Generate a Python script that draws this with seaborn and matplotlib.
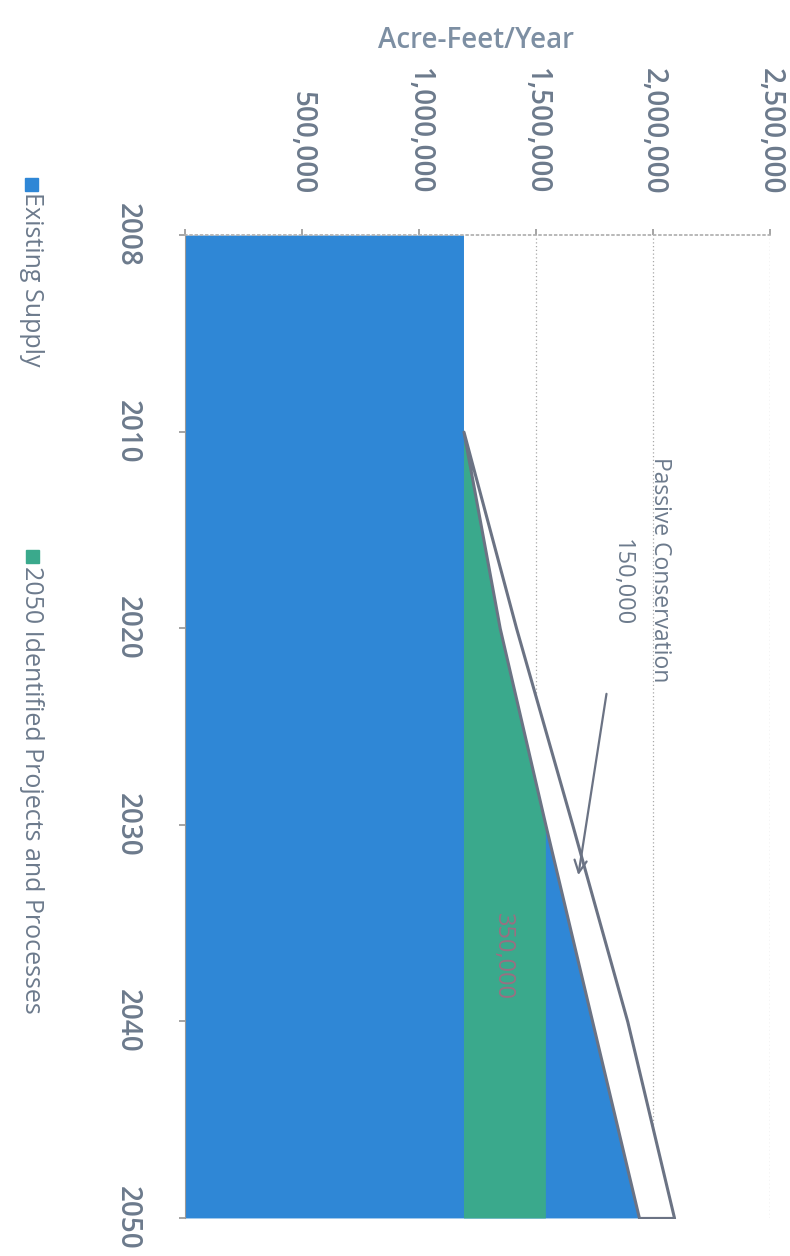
import numpy as np
import matplotlib
matplotlib.use("Agg")
import matplotlib.pyplot as plt
import seaborn as sns
from matplotlib.patches import Rectangle

# chart data (drawn rotated: years run down the page, acre-feet run to the right)

years = ["2008", "2010", "2020", "2030", "2040", "2050"]
existing_supply = [1190000, 1190000, 1190000, 1190000, 1190000, 1190000]
identified_projects = [0, 0, 155000, 350000, 350000, 350000]
additional_need = [0, 0, 0, 0, 200000, 400000]
passive_conservation = [0, 0, 70000, 115000, 150000, 150000]
value_ticks = [0, 500000, 1000000, 1500000, 2000000, 2500000]
value_labels = ["", "500,000", "1,000,000", "1,500,000", "2,000,000", "2,500,000"]

blue = "#2f87d6"
green = "#3aa98c"
outline = "#6b7384"
text_col = "#6c7a8c"

sns.set_theme(style="white")
plt.rcParams["font.family"] = ["Open Sans", "DejaVu Sans"]

fig = plt.figure(figsize=(7.9, 12.56), dpi=100)
ax = fig.add_axes([0.2342, 0.0303, 0.7405, 0.7826])

pos = np.arange(len(years))
base = np.array(existing_supply)
top1 = base + np.array(identified_projects)
top2 = top1 + np.array(additional_need)
outer = top2 + np.array(passive_conservation)

# stacked areas: blue underneath the whole stack, green laid over it
ax.fill_betweenx(pos, 0, top2, color=blue, lw=0, zorder=2)
ax.fill_betweenx(pos, base, top1, color=green, lw=0, zorder=2)
ax.fill_betweenx(pos[1:], top2[1:], outer[1:], facecolor="white",
                 edgecolor=outline, lw=2.2, zorder=3)

ax.set_xlim(0, 2500000)
ax.set_ylim(len(years) - 1, 0)

# value axis along the top
ax.xaxis.tick_top()
ax.set_xticks(value_ticks)
ax.set_xticklabels(value_labels, rotation=-90, fontsize=20, color=text_col,
                   fontweight="semibold")
ax.set_yticks(pos)
ax.set_yticklabels(years, rotation=-90, va="center", fontsize=20, color=text_col,
                   fontweight="semibold")
ax.tick_params(axis="x", pad=25, length=4, color="#999999", top=True, bottom=False)
ax.tick_params(axis="y", pad=27, length=4, color="#999999", left=True)

ax.grid(axis="x", color="#a8a8a8", linestyle=(0, (1, 2)), lw=0.9)
ax.grid(axis="y", visible=False)
ax.set_axisbelow(True)
for side in ["right", "bottom"]:
    ax.spines[side].set_visible(False)
ax.spines["top"].set_color("#b0b0b0")
ax.spines["top"].set_linestyle((0, (1, 2)))
ax.spines["left"].set_color("#999999")
ax.spines["left"].set_linewidth(0.8)

# annotations
ax.text(2030000, 1.70, "Passive Conservation", rotation=-90, ha="center", va="center",
        fontsize=16.5, color=text_col)
ax.text(1868000, 1.77, "150,000", rotation=-90, ha="center", va="center",
        fontsize=17, color=text_col)
ax.annotate("", xy=(1679000, 3.27), xytext=(1803000, 2.32),
            arrowprops=dict(arrowstyle="->", color=outline, lw=1.6,
                            mutation_scale=22), zorder=4)
ax.text(1359000, 3.67, "350,000", rotation=-90, ha="center", va="center",
        fontsize=17, color="#9a6f82", zorder=4)

# title
fig.text(0.603, 1 - 40 / 1256, "Acre-Feet/Year", ha="center", va="center",
         fontsize=20, color="#7d8fa3", fontweight="semibold")

# legend, written sideways like the rest of the chart
W, H = 790, 1256
for (sq_x, sq_y, txt_y, label, col) in [
    (25, 178, 192, "Existing Supply", blue),
    (26, 550, 566, "2050 Identified Projects and Processes", green),
]:
    fig.add_artist(Rectangle((sq_x / W, 1 - (sq_y + 13) / H), 13 / W, 13 / H,
                             transform=fig.transFigure, color=col))
    fig.text(31 / W, 1 - txt_y / H, label, rotation=-90, ha="center", va="top",
             fontsize=18, color=text_col)

fig.savefig("out.png", dpi=100)
